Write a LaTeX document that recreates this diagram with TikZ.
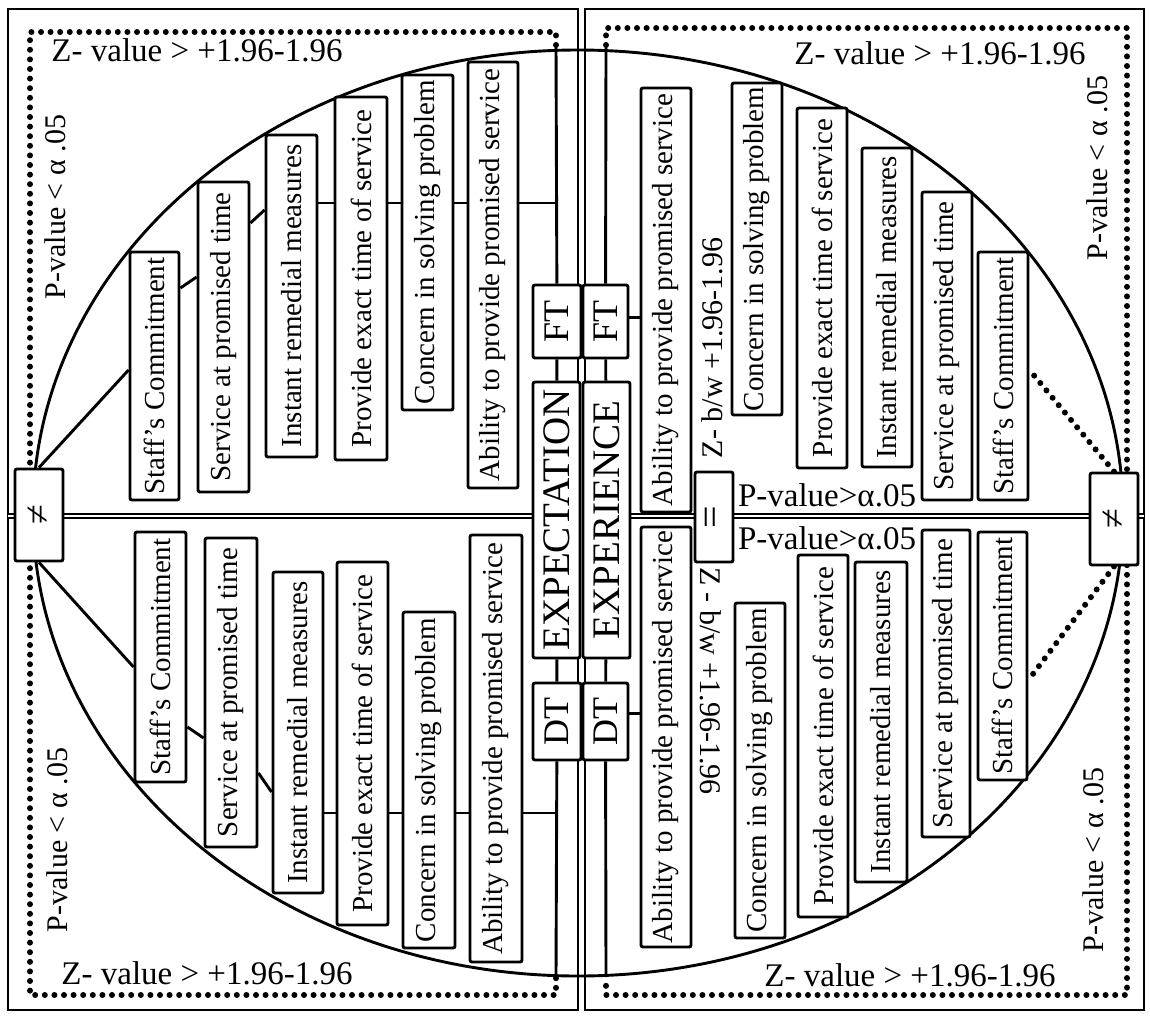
\documentclass[tikz,border=0pt]{standalone}
\usepackage{fontspec}
\setmainfont{Liberation Serif}
\usepackage{graphicx}
\usepackage{tikz}
\usetikzlibrary{backgrounds}

\newcommand{\uptext}[1]{\rotatebox{90}{#1}}
\newcommand{\downtext}[1]{\rotatebox{-90}{#1}}

\begin{document}
\begin{tikzpicture}[
    x=1pt, y=-1pt,
    itembox/.style={rectangle, draw, fill=white, line width=2.9pt, rounded corners=2pt, inner sep=0pt, font=\fontsize{29}{30}\selectfont},
    corebox/.style={itembox, font=\fontsize{39}{40}\selectfont},
    tagbox/.style={itembox, font=\fontsize{36}{38}\selectfont},
    signbox/.style={itembox, minimum width=48, minimum height=92, font=\fontsize{36}{38}\selectfont},
    zlabel/.style={inner sep=0pt, font=\fontsize{33}{34}\selectfont},
    plabel/.style={inner sep=0pt, font=\fontsize{30}{32}\selectfont},
    link/.style={line width=2.9pt},
    midline/.style={double, line width=2.6pt, double distance=1.4pt},
    dotline/.style={line width=6pt, dash pattern=on 0pt off 9.6pt, line cap=round},
    panel/.style={line width=2.9pt}
]
\useasboundingbox (0,0) rectangle (1150,1015);

% centre column
\node[corebox, minimum width=47, minimum height=276] (expect) at (556.5,520) {\uptext{EXPECTATION}};
\node[corebox, minimum width=47, minimum height=276] (exper) at (606.5,520) {\uptext{EXPERIENCE}};
\node[tagbox, minimum width=48, minimum height=73] (ft1) at (557,321.5) {\uptext{FT}};
\node[tagbox, minimum width=45, minimum height=73] (ft2) at (605.5,321.5) {\uptext{FT}};
\node[tagbox, minimum width=48, minimum height=77] (dt1) at (557,721.5) {\uptext{DT}};
\node[tagbox, minimum width=45, minimum height=77] (dt2) at (605.5,721.5) {\uptext{DT}};

% signs
\node[signbox] (neqL) at (39,515) {\uptext{≠}};
\node[signbox] (neqR) at (1114,519) {\uptext{≠}};
\node[signbox, minimum width=38, minimum height=90, font=\fontsize{40}{42}\selectfont] (eq) at (714,517) {\uptext{=}};

% top left
\node[itembox, minimum width=49, minimum height=248] (tlStaff) at (154.5,376) {\uptext{Staff's Commitment}};
\node[itembox, minimum width=51, minimum height=310] (tlService) at (223.5,337) {\uptext{Service at promised time}};
\node[itembox, minimum width=51, minimum height=322] (tlInstant) at (291.5,296) {\uptext{Instant remedial measures}};
\node[itembox, minimum width=52, minimum height=363] (tlProvide) at (361,278.5) {\uptext{Provide exact time of service}};
\node[itembox, minimum width=51, minimum height=335] (tlConcern) at (427.5,242.5) {\uptext{Concern in solving problem}};
\node[itembox, minimum width=50, minimum height=426] (tlAbility) at (493,275) {\uptext{Ability to provide promised service}};

% bottom left
\node[itembox, minimum width=51, minimum height=250] (blStaff) at (160.5,657) {\uptext{Staff's Commitment}};
\node[itembox, minimum width=52, minimum height=309] (blService) at (231,692.5) {\uptext{Service at promised time}};
\node[itembox, minimum width=50, minimum height=321] (blInstant) at (298,732.5) {\uptext{Instant remedial measures}};
\node[itembox, minimum width=51, minimum height=363] (blProvide) at (362.5,743.5) {\uptext{Provide exact time of service}};
\node[itembox, minimum width=52, minimum height=336] (blConcern) at (429,780) {\uptext{Concern in solving problem}};
\node[itembox, minimum width=52, minimum height=427] (blAbility) at (496,748.5) {\uptext{Ability to provide promised service}};

% top right
\node[itembox, minimum width=50, minimum height=424] (trAbility) at (666,300) {\uptext{Ability to provide promised service}};
\node[itembox, minimum width=50, minimum height=332] (trConcern) at (757,249) {\uptext{Concern in solving problem}};
\node[itembox, minimum width=50, minimum height=360] (trProvide) at (822,288) {\uptext{Provide exact time of service}};
\node[itembox, minimum width=50, minimum height=319] (trInstant) at (887,307.5) {\uptext{Instant remedial measures}};
\node[itembox, minimum width=50, minimum height=308] (trService) at (947,346) {\uptext{Service at promised time}};
\node[itembox, minimum width=50, minimum height=248] (trStaff) at (1003,376) {\uptext{Staff's Commitment}};

% bottom right
\node[itembox, minimum width=50, minimum height=420] (brAbility) at (666,737) {\uptext{Ability to provide promised service}};
\node[itembox, minimum width=50, minimum height=335] (brConcern) at (760,770.5) {\uptext{Concern in solving problem}};
\node[itembox, minimum width=50, minimum height=362] (brProvide) at (823,736) {\uptext{Provide exact time of service}};
\node[itembox, minimum width=52, minimum height=320] (brInstant) at (881,722) {\uptext{Instant remedial measures}};
\node[itembox, minimum width=48, minimum height=307] (brService) at (946,683.5) {\uptext{Service at promised time}};
\node[itembox, minimum width=49, minimum height=248] (brStaff) at (1002.5,656) {\uptext{Staff's Commitment}};

% labels
\node[zlabel] (zTL) at (197,50) {Z- value > +1.96-1.96};
\node[zlabel] (zTR) at (940,53) {Z- value > +1.96-1.96};
\node[zlabel] (zBL) at (207,973) {Z- value > +1.96-1.96};
\node[zlabel] (zBR) at (910,975) {Z- value > +1.96-1.96};
\node[plabel] (pTL) at (55,207) {\uptext{P-value < α .05}};
\node[plabel] (pBL) at (57,840) {\uptext{P-value < α .05}};
\node[plabel] (pTR) at (1097,168) {\uptext{P-value < α .05}};
\node[plabel] (pBR) at (1093,860) {\uptext{P-value < α .05}};
\node[plabel] (zbwUp) at (712,348) {\uptext{Z- b/w +1.96-1.96}};
\node[plabel] (zbwDn) at (711,681) {\downtext{Z - b/w +1.96-1.96}};
\node[zlabel] (pvUp) at (827,495) {P-value>α.05};
\node[zlabel] (pvDn) at (827,538) {P-value>α.05};

\coordinate (lTop) at (556,45);
\coordinate (lBot) at (556,977);
\coordinate (rTop) at (606,45);
\coordinate (rBot) at (606,977);
\coordinate (tlJoin) at (556,203);
\coordinate (blJoin) at (556,813);
\coordinate (midL) at (8,516);
\coordinate (midR) at (1144,516);

\begin{scope}[on background layer]
\draw[panel] (8,9) rectangle (578,1010);
\draw[panel] (585,9) rectangle (1144,1010);
\draw[dotline] (lTop) |- (30,32) -- (30,995) -| (lBot);
\draw[dotline] (rTop) |- (1127,28) -- (1127,995) -| (rBot);
\draw[link] (578,513) ellipse [x radius=545, y radius=463];
\draw[midline] (midL) -- (midL -| expect.west);
\draw[midline] (midR -| exper.east) -- (midR);

% left stem
\draw[link] (lTop) -- (ft1);
\draw[link] (ft1) -- (expect);
\draw[link] (expect) -- (dt1);
\draw[link] (dt1) -- (lBot);
\draw[link] (tlInstant.east |- tlJoin) -- (tlJoin);
\draw[link] (tlStaff.east |- 0,288) -- (tlService.west |- 0,277);
\draw[link] (tlService.east |- 0,223) -- (tlInstant.west |- 0,210);
\draw[link] (neqL.north) -- (tlStaff.west |- 0,370);
\draw[link] (blInstant.east |- blJoin) -- (blJoin);
\draw[link] (blStaff.east |- 0,727) -- (blService.west |- 0,738);
\draw[link] (blService.east |- 0,773) -- (blInstant.west |- 0,792);
\draw[link] (neqL.south) -- (blStaff.west |- 0,667);

% right stem
\draw[link] (rTop) -- (ft2);
\draw[link] (ft2) -- (exper);
\draw[link] (exper) -- (dt2);
\draw[link] (dt2) -- (rBot);
\draw[link] ([yshift=4pt]ft2.east) -- ([yshift=4pt]ft2.east -| trAbility.west);
\draw[link] ([yshift=8pt]dt2.east) -- ([yshift=8pt]dt2.east -| brAbility.west);
\draw[dotline] (neqR.north) -- (trStaff.east |- 0,370);
\draw[dotline] (neqR.south) -- (brStaff.east |- 0,680);
\end{scope}
\end{tikzpicture}
\end{document}
